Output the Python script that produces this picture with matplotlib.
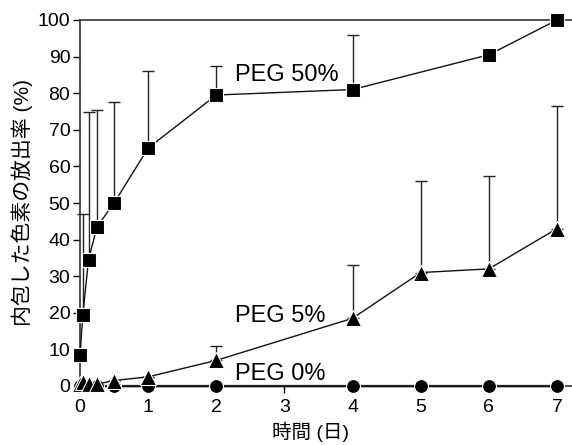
import matplotlib
matplotlib.use("Agg")
import matplotlib.pyplot as plt
import numpy as np

plt.rcParams['font.family'] = ['Liberation Sans', 'Noto Sans CJK JP', 'DejaVu Sans']

t50 = [0, 0.042, 0.125, 0.25, 0.5, 1, 2, 4, 6, 7]
v50 = [8.5, 19.5, 34.5, 43.5, 50, 65, 79.5, 81, 90.5, 100]
e50 = [0, 27.5, 40.5, 32, 27.5, 21, 8, 15, 0, 0]

t5 = [0, 0.042, 0.125, 0.25, 0.5, 1, 2, 4, 5, 6, 7]
v5 = [0.5, 1, 0.5, 0.5, 1.5, 2.5, 7, 18.5, 31, 32, 43]
e5 = [0, 0, 0, 0, 0, 0, 4, 14.5, 25, 25.5, 33.5]

t0 = [0, 0.042, 0.125, 0.25, 0.5, 1, 2, 4, 5, 6, 7]
v0 = [0, 0, 0, 0, 0, 0, 0, 0, 0, 0, 0]

xticks = [0, 1, 2, 3, 4, 5, 6, 7]
yticks = [0, 10, 20, 30, 40, 50, 60, 70, 80, 90, 100]

fig = plt.figure(figsize=(5.72, 4.45), dpi=100)
ax = fig.add_axes([80/572, 59/445, 1 - 80/572, (386-20)/445])

def series(t, v, e, marker, ms):
    lower = np.zeros(len(e))
    ax.errorbar(t, v, yerr=[lower, e], fmt='none', ecolor='#222222', elinewidth=1.0,
                capsize=4, capthick=1.0, clip_on=False, zorder=2)
    ax.plot(t, v, color='#111111', linewidth=1.0, marker=marker, markersize=ms,
            markerfacecolor='black', markeredgecolor='white', markeredgewidth=0.8,
            clip_on=False, zorder=3)

series(t0, v0, [0]*len(v0), 'o', 10)
series(t5, v5, e5, '^', 11)
series(t50, v50, e50, 's', 10)
ax.plot(t0, v0, color='black', linewidth=1.6, zorder=2.5, clip_on=False)

ax.set_xlim(0, 7.22)
ax.set_ylim(0, 100)
ax.set_xticks(xticks)
ax.set_yticks(yticks)
ax.tick_params(axis='both', direction='out', labelsize=14, length=5, width=1, colors='black')
ax.tick_params(axis='x', pad=4)
ax.tick_params(axis='y', pad=2)
for s in ['left', 'bottom', 'top']:
    ax.spines[s].set_linewidth(1.2)
    ax.spines[s].set_color('#333333')
ax.spines['right'].set_visible(False)

ax.text(2.28, 85, 'PEG 50%', fontsize=17, va='center', ha='left')
ax.text(2.28, 19, 'PEG 5%', fontsize=17, va='center', ha='left')
ax.text(2.28, 3.2, 'PEG 0%', fontsize=17, va='center', ha='left')

ax.set_ylabel('内包した色素の放出率 (%)', fontsize=15, labelpad=3)
ax.set_xlabel('時間 (日)', fontsize=14)
ax.xaxis.set_label_coords((311 - 80) / 492, -46 / 366)
ax.xaxis.label.set_va('center')

fig.savefig('out.png', dpi=100)
